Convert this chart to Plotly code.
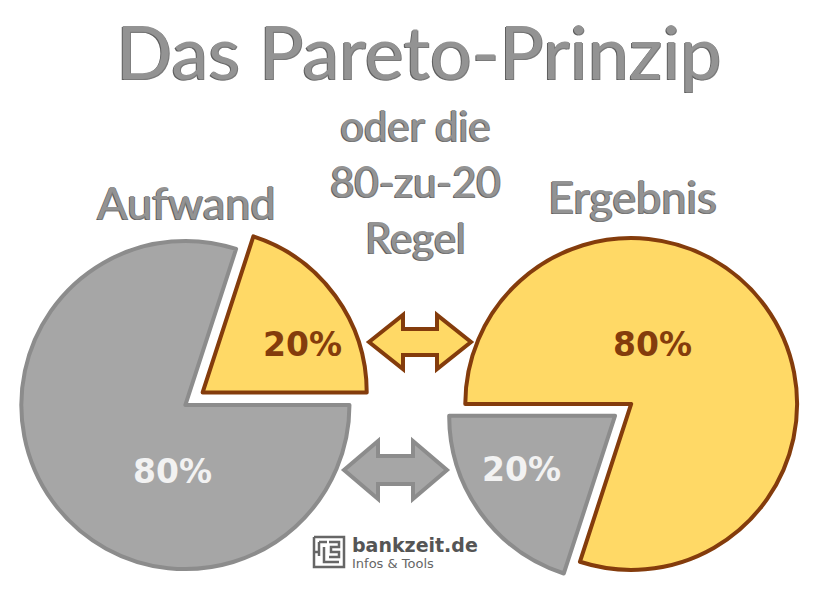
import plotly.graph_objects as go

W, H = 824, 606

# ---- data ----
title_text = "Das Pareto-Prinzip"
subtitle_lines = ["oder die", "80-zu-20", "Regel"]
pie_titles = ["Aufwand", "Ergebnis"]
slice_labels = ["20%", "80%"]
aufwand_values = [20, 80]
ergebnis_values = [20, 80]
brand_name = "bankzeit.de"
brand_tag = "Infos & Tools"

# ---- styles ----
YELLOW = "#FFD966"
BROWN = "#843C0C"
GRAY = "#A6A6A6"
GRAY_LINE = "#8C8C8C"
LIGHT = "#F2F2F2"
TEXT_FACE = "#939393"
TEXT_SHADOW = "#696969"


def P(x, y):
    return x / W, 1 - y / H


fig = go.Figure()

fig.add_trace(go.Pie(
    values=aufwand_values, labels=slice_labels, sort=False,
    direction="counterclockwise", rotation=18, pull=[0.13, 0],
    marker=dict(colors=[YELLOW, GRAY], line=dict(color=[BROWN, GRAY_LINE], width=4)),
    textinfo="none", hoverinfo="none", showlegend=False,
    domain=dict(x=[0.0, 0.45], y=[0.0248, 0.6386]),
))
fig.add_trace(go.Pie(
    values=ergebnis_values, labels=slice_labels, sort=False,
    direction="counterclockwise", rotation=198, pull=[0.12, 0],
    marker=dict(colors=[GRAY, YELLOW], line=dict(color=[GRAY_LINE, BROWN], width=4)),
    textinfo="none", hoverinfo="none", showlegend=False,
    domain=dict(x=[0.5405, 0.9915], y=[0.0248, 0.6419]),
))

annotations = []


def emboss(text, x, y, size):
    ax, ay = P(x, y)
    for col, dx, dy in [("#5f5f5f", -1, -1), ("#7a7a7a", 1, -1), (TEXT_FACE, 0, 0)]:
        annotations.append(dict(
            text=text, x=ax, y=ay, xref="paper", yref="paper",
            xanchor="center", yanchor="middle", showarrow=False,
            xshift=dx, yshift=dy,
            font=dict(family="Lato", size=size, color=col)))


emboss(title_text, 419, 50, 74)
for i, line in enumerate(subtitle_lines):
    emboss(line, 415, 125 + i * 56, 42)
emboss(pie_titles[0], 186, 202, 45)
emboss(pie_titles[1], 632, 196, 45)


def label(text, x, y, col):
    ax, ay = P(x, y)
    annotations.append(dict(
        text="<b>" + text + "</b>", x=ax, y=ay, xref="paper", yref="paper",
        xanchor="center", yanchor="middle", showarrow=False,
        font=dict(family="DejaVu Sans", size=33, color=col)))


label(slice_labels[0], 302, 344, BROWN)
label(slice_labels[1], 172, 471, LIGHT)
label(slice_labels[1], 652, 344, BROWN)
label(slice_labels[0], 521, 470, LIGHT)

# brand
bx, by = P(350, 545)
annotations.append(dict(text="<b>" + brand_name + "</b>", x=bx, y=by, xref="paper", yref="paper",
                        xanchor="left", yanchor="middle", showarrow=False,
                        font=dict(family="DejaVu Sans", size=19, color="#555555")))
bx, by = P(350, 563)
annotations.append(dict(text=brand_tag, x=bx, y=by, xref="paper", yref="paper",
                        xanchor="left", yanchor="middle", showarrow=False,
                        font=dict(family="DejaVu Sans", size=13, color="#666666")))


def arrow_path(x0, x1, cy, hl, hh, bh):
    pts = [(x0, cy), (x0 + hl, cy - hh), (x0 + hl, cy - bh), (x1 - hl, cy - bh),
           (x1 - hl, cy - hh), (x1, cy), (x1 - hl, cy + hh), (x1 - hl, cy + bh),
           (x0 + hl, cy + bh), (x0 + hl, cy + hh)]
    s = ""
    for i, (x, y) in enumerate(pts):
        px_, py_ = P(x, y)
        s += ("M" if i == 0 else "L") + f"{px_:.5f},{py_:.5f} "
    return s + "Z"


shapes = [
    dict(type="path", xref="paper", yref="paper", path=arrow_path(369, 471, 342, 34, 27, 13),
         fillcolor=YELLOW, line=dict(color=BROWN, width=4), layer="above"),
    dict(type="path", xref="paper", yref="paper", path=arrow_path(344, 447, 470, 34, 29, 14),
         fillcolor=GRAY, line=dict(color=GRAY_LINE, width=4), layer="above"),
]


def poly(points):
    s = ""
    for i, (x, y) in enumerate(points):
        px_, py_ = P(x, y)
        s += ("M" if i == 0 else "L") + f"{px_:.5f},{py_:.5f} "
    return s


icon_lines = [
    [(314, 537), (344, 537), (344, 567), (314, 567), (314, 537)],
    [(319, 542), (319, 556)],
    [(319, 542), (327, 542)],
    [(324, 547), (324, 562), (339, 562)],
    [(329, 542), (339, 542), (339, 547), (331, 547), (331, 552), (339, 552), (339, 557), (329, 557)],
    [(314, 552), (319, 552)],
]
for pts in icon_lines:
    shapes.append(dict(type="path", xref="paper", yref="paper", path=poly(pts),
                       fillcolor="rgba(0,0,0,0)", line=dict(color="#666666", width=2.5)))

fig.update_layout(
    width=W, height=H,
    margin=dict(l=0, r=0, t=0, b=0),
    paper_bgcolor="white", plot_bgcolor="white",
    annotations=annotations, shapes=shapes, showlegend=False,
)

fig.write_html("out.html", config={"displayModeBar": False},
               post_script="document.body.style.margin='0';")
